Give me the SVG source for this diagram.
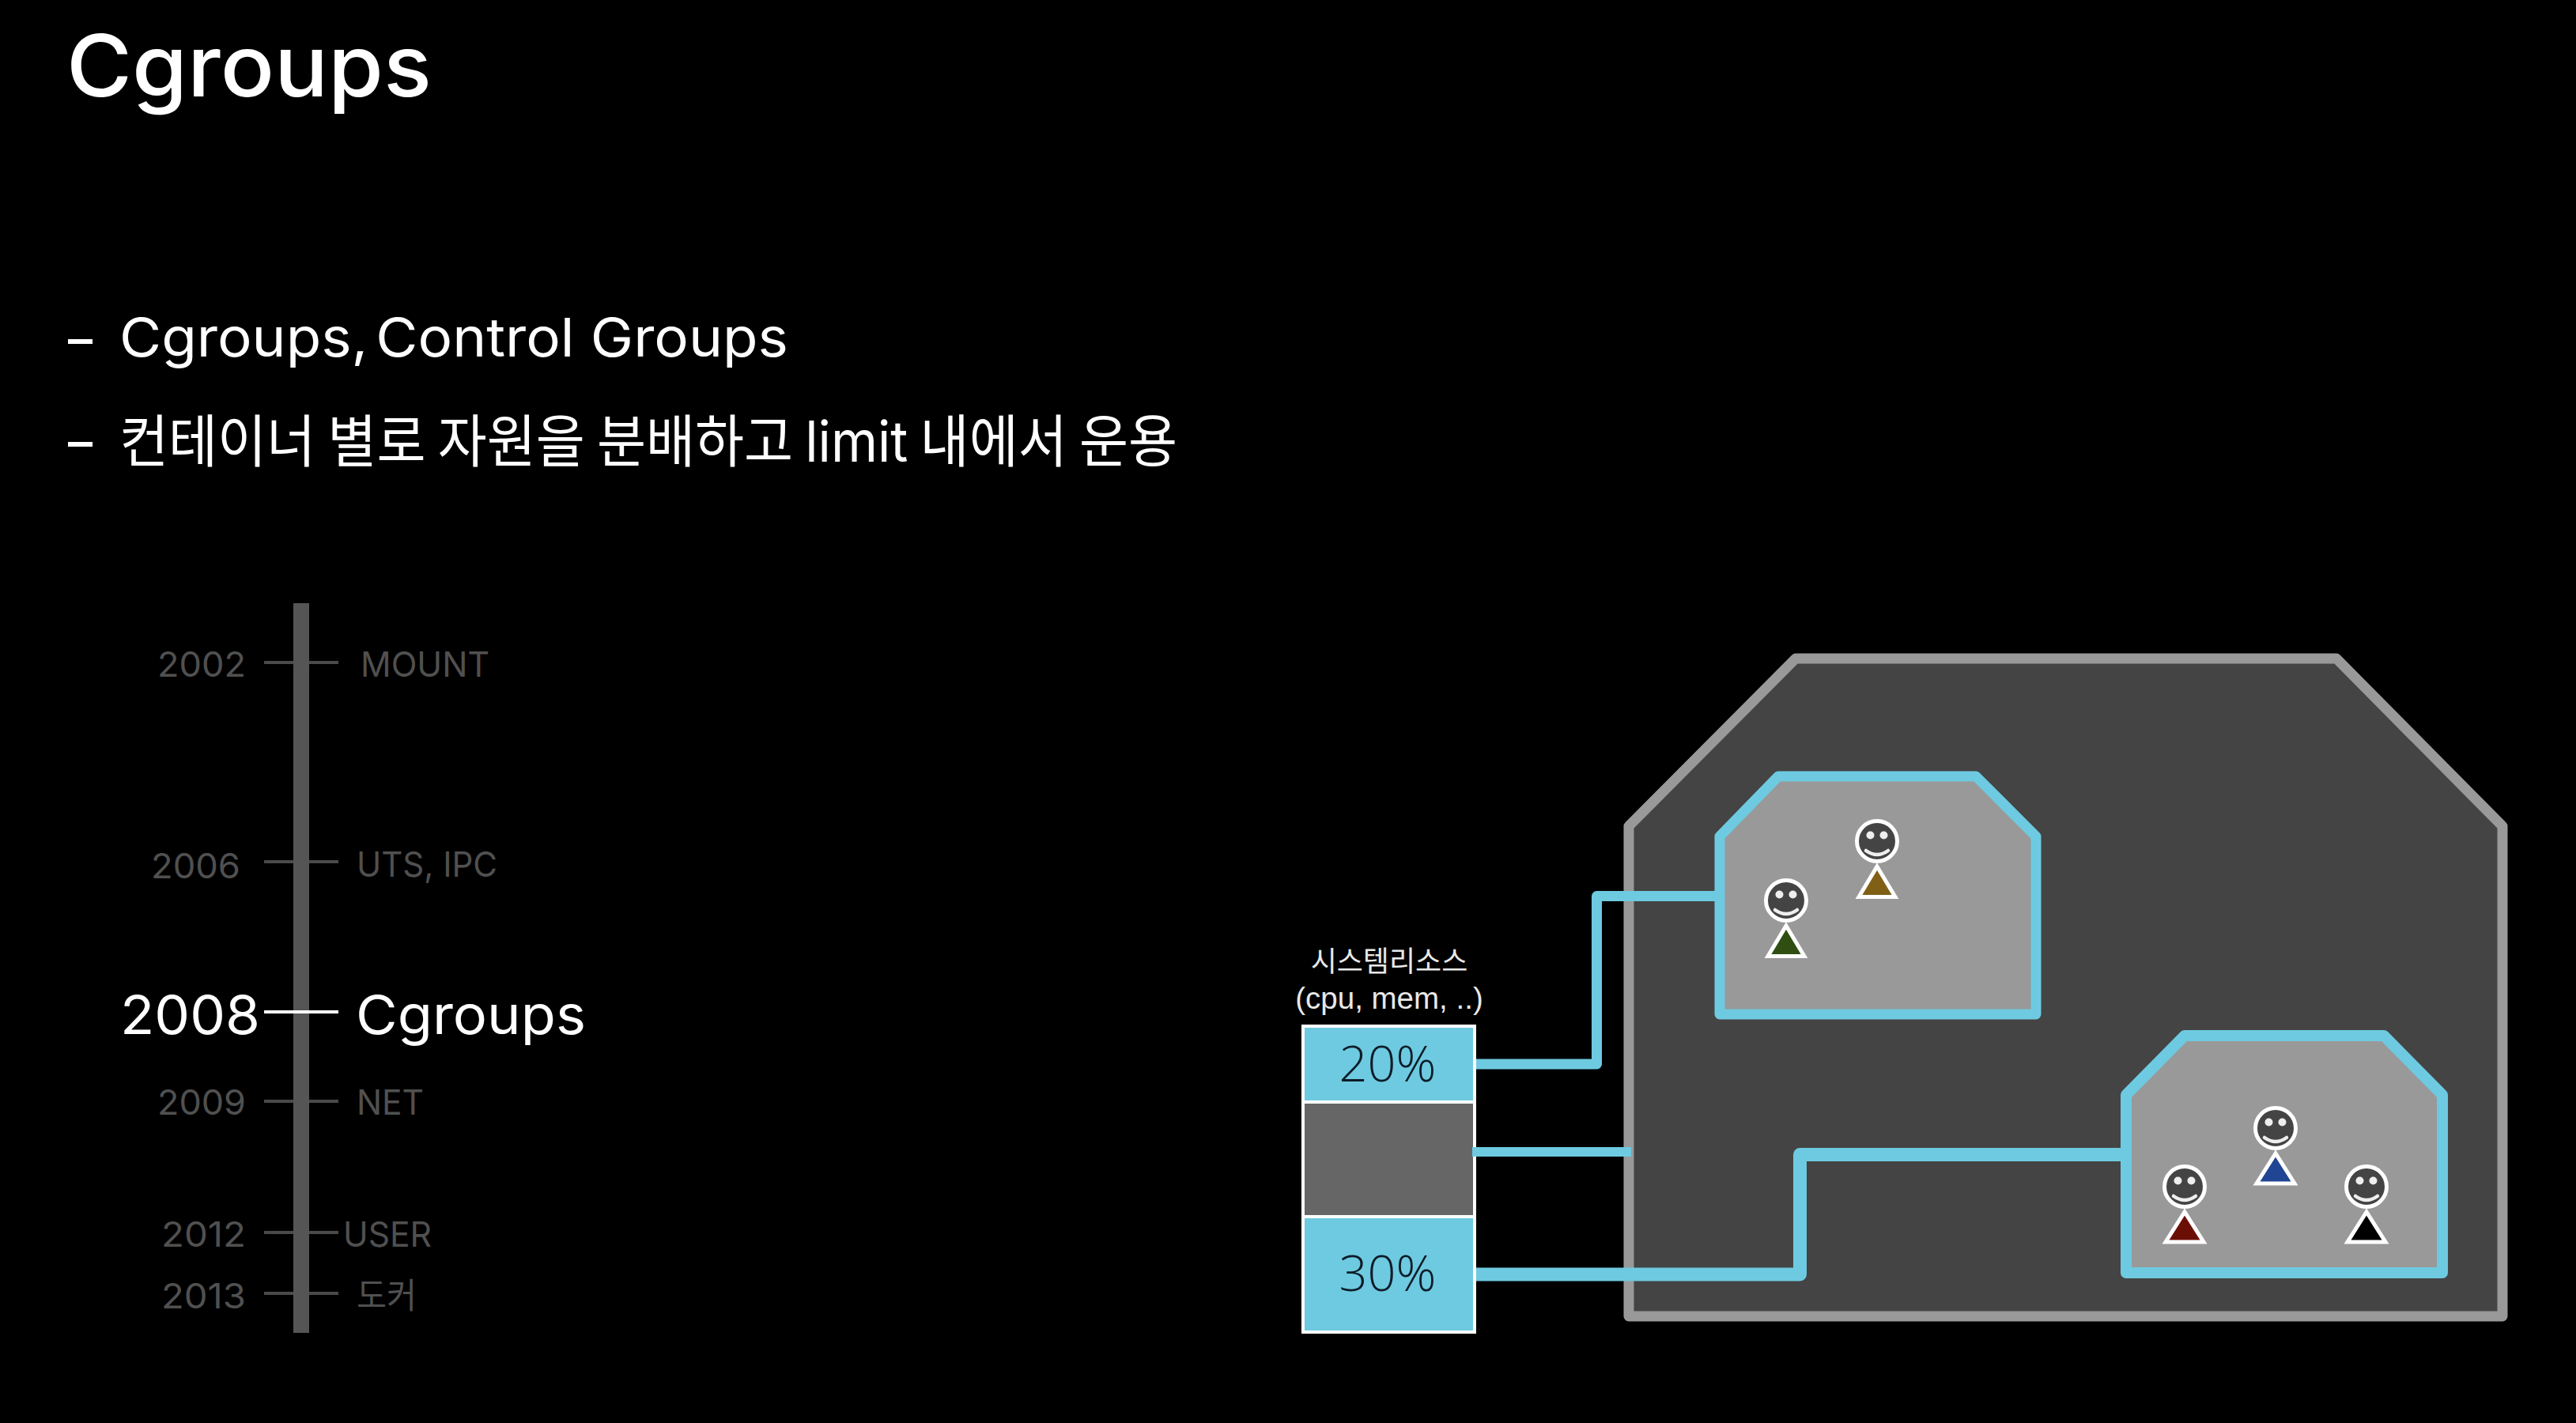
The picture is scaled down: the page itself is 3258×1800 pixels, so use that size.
<svg xmlns="http://www.w3.org/2000/svg" width="3258" height="1800" viewBox="0 0 3258 1800">
<style>
text{font-family:Inter,"Noto Sans CJK KR",sans-serif;fill:#fff}
.b{font-size:68px;font-weight:400}
.k{font-size:72px;font-weight:400;word-spacing:-4px}
.d{font-size:44px;font-weight:400;fill:#505050}
.h{font-size:68px;font-weight:400}
.t{stroke:#4a4a4a;stroke-width:4;fill:none}
.cn{stroke:#6ecae0;fill:none;stroke-linejoin:round}
.pct{font-family:"Open Sans",sans-serif;font-size:63px;font-weight:300;fill:#0c1c28}
.res{font-family:"Liberation Sans","Noto Sans CJK KR",sans-serif;fill:#e8e8e8}
.head{fill:#444;stroke:#fff;stroke-width:5}
.eye{fill:#eee}
.sm{fill:none;stroke:#eee;stroke-width:4.500;stroke-linecap:round}
.tri{stroke:#fff;stroke-width:5;stroke-linejoin:miter;stroke-miterlimit:8}
</style>
<defs>
<g id="face">
<circle class="head" cx="0" cy="0" r="25.500"/>
<circle class="eye" cx="-8.500" cy="-7.500" r="5"/>
<circle class="eye" cx="8.500" cy="-7.500" r="5"/>
<path class="sm" d="M-14 12Q0 22 14 12"/>
</g>
</defs>
<rect width="3258" height="1800" fill="#000"/>
<g id="title"><text x="84" y="122" font-size="108" font-weight="500" textLength="462" lengthAdjust="spacingAndGlyphs">Cgroups</text></g>
<g id="bullets">
<rect x="86" y="429" width="31" height="6" fill="#fff"/>
<text class="b" x="151" y="451" textLength="846" lengthAdjust="spacingAndGlyphs">Cgroups,<tspan dx="-10"> Control Groups</tspan></text>
<rect x="86" y="559" width="31" height="6" fill="#fff"/>
<text class="k" x="151" y="584" textLength="1338" lengthAdjust="spacingAndGlyphs">컨테이너 별로 자원을 분배하고 limit 내에서 운용</text>
</g>
<g id="timeline">
<path class="t" d="M334 838H428M334 1090H428M334 1393H428M334 1559H428M334 1636H428"/>
<rect x="371" y="763" width="20" height="923" fill="#555"/>
<path d="M334 1280H428" stroke="#fff" stroke-width="4"/>
<text class="d" x="199" y="856" textLength="112" lengthAdjust="spacingAndGlyphs">2002</text>
<text class="d" x="456" y="856" textLength="163" lengthAdjust="spacingAndGlyphs">MOUNT</text>
<text class="d" x="191" y="1111" textLength="113" lengthAdjust="spacingAndGlyphs">2006</text>
<text class="d" x="451" y="1109" textLength="178" lengthAdjust="spacingAndGlyphs">UTS, IPC</text>
<text class="h" x="152" y="1308" textLength="177" lengthAdjust="spacingAndGlyphs">2008</text>
<text class="h" x="450" y="1308" textLength="291" lengthAdjust="spacingAndGlyphs">Cgroups</text>
<text class="d" x="199" y="1410" textLength="112" lengthAdjust="spacingAndGlyphs">2009</text>
<text class="d" x="451" y="1410" textLength="85" lengthAdjust="spacingAndGlyphs">NET</text>
<text class="d" x="204" y="1577" textLength="107" lengthAdjust="spacingAndGlyphs">2012</text>
<text class="d" x="434" y="1577" textLength="112" lengthAdjust="spacingAndGlyphs">USER</text>
<text class="d" x="204" y="1655" textLength="107" lengthAdjust="spacingAndGlyphs">2013</text>
<text class="d" x="451" y="1655" font-size="48" textLength="76" lengthAdjust="spacingAndGlyphs">도커</text>
</g>
<g id="host"><path d="M2060 1665V1045L2271 833H2955L3165 1045V1665Z" fill="#444" stroke="#999" stroke-width="13" stroke-linejoin="round"/></g>
<g id="resources">
<text class="res" x="1757" y="1229" text-anchor="middle" font-size="36">시스템리소스</text>
<text class="res" x="1757" y="1276" text-anchor="middle" font-size="38.500">(cpu, mem, ..)</text>
<rect x="1648" y="1298" width="217" height="96" fill="#6ecae0" stroke="#fff" stroke-width="4"/>
<rect x="1648" y="1394" width="217" height="145" fill="#666" stroke="#fff" stroke-width="4"/>
<rect x="1648" y="1539" width="217" height="146" fill="#6ecae0" stroke="#fff" stroke-width="4"/>
<text class="pct" x="1755" y="1368" text-anchor="middle">20%</text>
<text class="pct" x="1755" y="1633" text-anchor="middle">30%</text>
</g>
<g id="container1">
<path d="M2175 1283V1058L2249 982H2499L2575 1058V1283Z" fill="#999" stroke="#6ecae0" stroke-width="13" stroke-linejoin="round"/>
<use href="#face" x="2374" y="1064"/>
<path class="tri" d="M2374 1096L2351 1134.500H2397Z" fill="#7f6015"/>
<use href="#face" x="2259" y="1139"/>
<path class="tri" d="M2259 1171L2236 1209.500H2282Z" fill="#2f4f12"/>
</g>
<g id="container2">
<path d="M2689 1610V1385L2763 1310H3015L3089 1385V1610Z" fill="#999" stroke="#6ecae0" stroke-width="14" stroke-linejoin="round"/>
<use href="#face" x="2878" y="1427"/>
<path class="tri" d="M2878 1459L2854 1497H2902Z" fill="#1f4594"/>
<use href="#face" x="2763" y="1501"/>
<path class="tri" d="M2763 1533L2739 1571H2787Z" fill="#6b0f05"/>
<use href="#face" x="2993" y="1501"/>
<path class="tri" d="M2993 1533L2969 1571H3017Z" fill="#000"/>
</g>
<g id="connectors">
<path class="cn" stroke-width="13" d="M1867 1346H2019.500V1133.500H2170"/>
<path class="cn" stroke-width="12" d="M1862 1457H2063"/>
<path class="cn" stroke-width="17" d="M1867 1612H2276.500V1460.500H2685"/>
</g>
</svg>
